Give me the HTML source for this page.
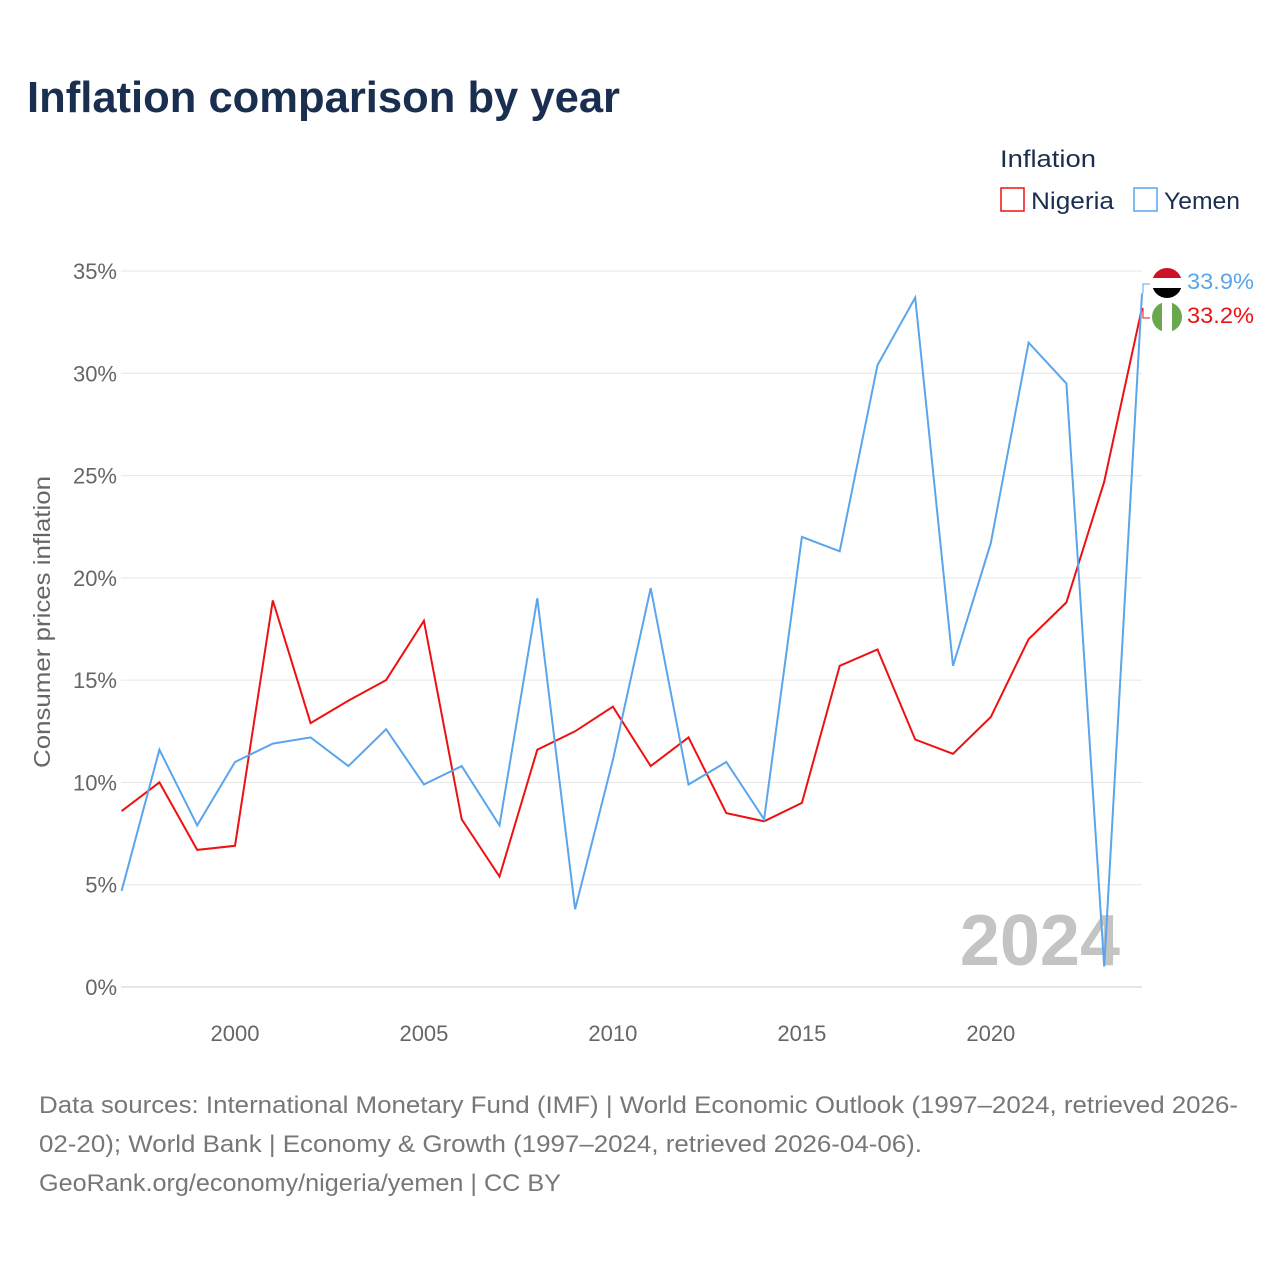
<!DOCTYPE html>
<html><head><meta charset="utf-8"><style>
body{margin:0;background:#fff;font-family:"Liberation Sans",sans-serif;}
#wrap{position:relative;width:1280px;height:1280px;overflow:hidden;}
</style></head><body>
<div id="wrap">
<svg id="chart" width="1280" height="1280"></svg>
</div>
<script>
const years=[1997,1998,1999,2000,2001,2002,2003,2004,2005,2006,2007,2008,2009,2010,2011,2012,2013,2014,2015,2016,2017,2018,2019,2020,2021,2022,2023,2024];
const nigeria=[8.6,10.0,6.7,6.9,18.9,12.9,14.0,15.0,17.9,8.2,5.4,11.6,12.5,13.7,10.8,12.2,8.5,8.1,9.0,15.7,16.5,12.1,11.4,13.2,17.0,18.8,24.7,33.2];
const yemen=[4.7,11.6,7.9,11.0,11.9,12.2,10.8,12.6,9.9,10.8,7.9,19.0,3.8,11.1,19.5,9.9,11.0,8.2,22.0,21.3,30.4,33.7,15.7,21.7,31.5,29.5,1.0,33.9];
const yTicks=[0,5,10,15,20,25,30,35];
const xTicks=[2000,2005,2010,2015,2020];
const NS="http://www.w3.org/2000/svg";
const svg=document.getElementById('chart');
const x=v=>121.6+(v-1997)*(1142-121.6)/27;
const y=v=>987-v*(987-271)/35;
function el(t,a,txt){const e=document.createElementNS(NS,t);for(const k in a)e.setAttribute(k,a[k]);if(txt!==undefined)e.textContent=txt;svg.appendChild(e);return e;}
let e;
const defs=el('defs',{});
function clip(id,cy){
 const cp=document.createElementNS(NS,'clipPath');cp.setAttribute('id',id);
 const cc=document.createElementNS(NS,'circle');cc.setAttribute('cx',1167);cc.setAttribute('cy',cy);cc.setAttribute('r',15);
 cp.appendChild(cc);defs.appendChild(cp);
}
clip('ngclip',317);clip('yeclip',283);
e=el('text',{x:27,y:112,'font-size':44,'font-weight':'bold',fill:'#1a2e50',textLength:593,lengthAdjust:'spacingAndGlyphs'},'Inflation comparison by year');


yTicks.forEach(t=>{
 e=el('line',{x1:121,x2:1142,y1:y(t),y2:y(t),stroke:t===0?'#ccc':'#e6e6e6','stroke-width':1});
 
 
 e=el('text',{x:117,y:y(t)+8,'text-anchor':'end','font-size':22,fill:'#666'},t+'%');
 
 
});
xTicks.forEach(t=>{
 e=el('text',{x:x(t),y:1041,'text-anchor':'middle','font-size':22,fill:'#666'},String(t));
 
 
});
e=el('text',{x:0,y:0,transform:'translate(50,622) rotate(-90)','text-anchor':'middle','font-size':23,fill:'#666',textLength:292,lengthAdjust:'spacingAndGlyphs'},'Consumer prices inflation');


e=el('text',{x:1120,y:965,'text-anchor':'end','font-size':72,'font-weight':'bold',fill:'#c4c4c4'},'2024');


function line(data,color,name){
 const d=data.map((v,i)=>(i?'L':'M')+x(years[i]).toFixed(1)+','+y(v).toFixed(1)).join(' ');
 const p=el('path',{d:d,fill:'none',stroke:color,'stroke-width':2});
 
 
}
line(nigeria,'#ee1111','nigeria-line');
line(yemen,'#5aa5ec','yemen-line');
const lastY=yemen[yemen.length-1], lastN=nigeria[nigeria.length-1];
function flag(id,cy,stripes,name,vertical){
 const g=el('g',{'clip-path':'url(#'+id+')'});
 
 
 stripes.forEach((c,i)=>{
  const r=document.createElementNS(NS,'rect');
  if(vertical){r.setAttribute('x',1152+i*10);r.setAttribute('y',cy-15);r.setAttribute('width',10);r.setAttribute('height',30);}
  else{r.setAttribute('x',1152);r.setAttribute('y',cy-15+i*10);r.setAttribute('width',30);r.setAttribute('height',10);}
  r.setAttribute('fill',c);g.appendChild(r);
 });
}
flag('yeclip',283,['#ce1126','#fff','#000'],'yemen-flag',false);
flag('ngclip',317,['#6aa84f','#fff','#6aa84f'],'nigeria-flag',true);
el('path',{d:'M1143,'+y(lastY).toFixed(1)+' L1143,284 L1150,284',stroke:'#5aa5ec',fill:'none'});
el('path',{d:'M1143,308 L1143,318 L1150,318',stroke:'#ee1111',fill:'none'});
e=el('text',{x:1187,y:289,'font-size':22,fill:'#5aa5ec',textLength:67,lengthAdjust:'spacingAndGlyphs'},lastY.toFixed(1)+'%');


e=el('text',{x:1187,y:323,'font-size':22,fill:'#ee1111',textLength:67,lengthAdjust:'spacingAndGlyphs'},lastN.toFixed(1)+'%');


e=el('text',{x:1000,y:167,'font-size':24,fill:'#1a2e50',textLength:96,lengthAdjust:'spacingAndGlyphs'},'Inflation');


e=el('rect',{x:1001,y:188,width:23,height:23,fill:'none',stroke:'#ee1111','stroke-width':1.5});


el('text',{x:1031,y:209,'font-size':24,fill:'#1a2e50',textLength:83,lengthAdjust:'spacingAndGlyphs'},'Nigeria');
e=el('rect',{x:1134,y:188,width:23,height:23,fill:'none',stroke:'#5aa5ec','stroke-width':1.5});


el('text',{x:1164,y:209,'font-size':24,fill:'#1a2e50',textLength:76,lengthAdjust:'spacingAndGlyphs'},'Yemen');
const foot=['Data sources: International Monetary Fund (IMF) | World Economic Outlook (1997–2024, retrieved 2026-','02-20); World Bank | Economy & Growth (1997–2024, retrieved 2026-04-06).','GeoRank.org/economy/nigeria/yemen | CC BY'];
const footW=[1199,883,522];
foot.forEach((t,i)=>{
 e=el('text',{x:39,y:1113+i*39,'font-size':24,fill:'#777',textLength:footW[i],lengthAdjust:'spacingAndGlyphs'},t);
 
 
});
</script>
</body></html>
